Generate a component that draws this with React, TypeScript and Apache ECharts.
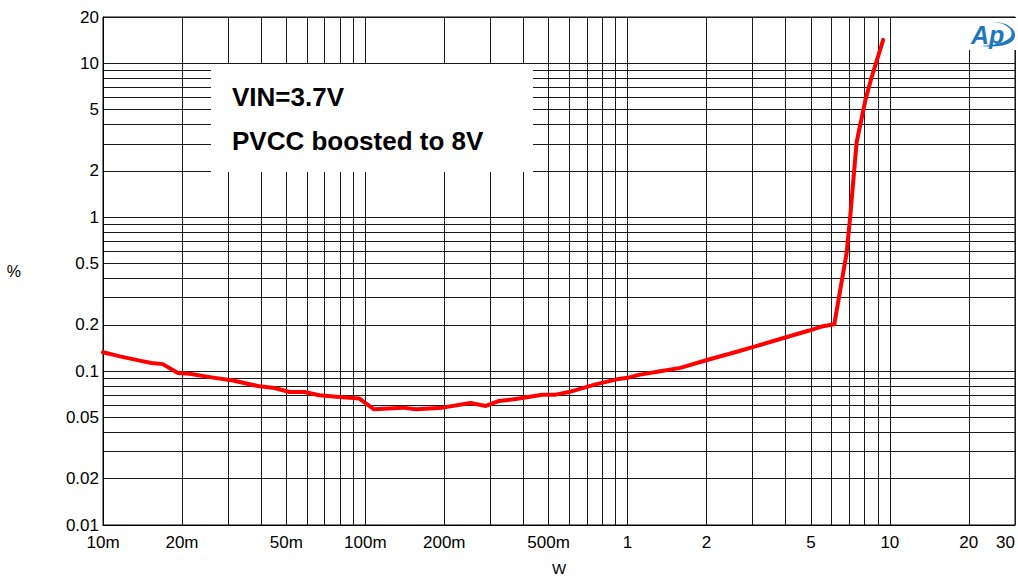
import React, { useEffect, useRef } from "react";
import * as echarts from "echarts";

// Output power (W)
const POWER_W = [
  0.01, 0.0116, 0.0138, 0.0153, 0.0169, 0.0193, 0.0214, 0.0255, 0.0313, 0.0395,
  0.0451, 0.0514, 0.0586, 0.0668, 0.0796, 0.095, 0.108, 0.1387, 0.156, 0.197,
  0.252, 0.288, 0.324, 0.386, 0.473, 0.532, 0.597, 0.755, 0.925, 1.0, 1.103,
  1.314, 1.589, 2.04, 2.57, 3.066, 3.99, 4.89, 5.49, 6.14, 6.84, 7.05, 7.47,
  8.08, 8.51, 9.43,
];
// THD+N (%)
const THDN_PCT = [
  0.1325, 0.1247, 0.117, 0.113, 0.111, 0.0973, 0.096, 0.0914, 0.0869, 0.0796,
  0.0777, 0.0731, 0.0731, 0.0697, 0.0679, 0.0663, 0.0565, 0.0579, 0.0565, 0.0579,
  0.0621, 0.0594, 0.064, 0.0663, 0.0703, 0.0703, 0.0731, 0.082, 0.089, 0.0904, 0.0945,
  0.0994, 0.105, 0.119, 0.1325, 0.1447, 0.1654, 0.1828, 0.1948, 0.2014, 0.584, 0.982, 3.07,
  5.83, 8.05, 14.2,
];

const X_LABELS = [0.01, 0.02, 0.05, 0.1, 0.2, 0.5, 1, 2, 5, 10, 20, 30];
const Y_LABELS = [0.01, 0.02, 0.05, 0.1, 0.2, 0.5, 1, 2, 5, 10, 20];
const X_DECADES = [0.01, 0.1, 1, 10];
const Y_DECADES = [0.01, 0.1, 1, 10];
const MULTIPLIERS = [1, 2, 3, 4, 5, 6, 7, 8, 9];
const X_MIN = 0.01;
const X_MAX = 30;
const Y_MIN = 0.01;
const Y_MAX = 20;

const FONT = '"Liberation Sans", Arial, Helvetica, sans-serif';

function gridValues(decades: number[], min: number, max: number) {
  const out: number[] = [];
  decades.forEach((d) =>
    MULTIPLIERS.forEach((m) => {
      const v = Number((m * d).toPrecision(6));
      if (v >= min && v <= max) out.push(v);
    })
  );
  return out;
}

const SWOOSH =
  "M 24 2 C 38 2 47 9 46 16 C 45 24 33 28 12 26 C 29 25 41 21 42.5 15 C 44 9 37 3 24 2 Z";
echarts.graphic.registerShape("apswoosh", echarts.graphic.extendPath(SWOOSH, {}) as any);

function fmtX(v: number) {
  if (v < 1) return Math.round(v * 1000) + "m";
  return String(Number(v.toPrecision(4)));
}
function fmtY(v: number) {
  return String(Number(v.toPrecision(4)));
}

export default function App() {
  const ref = useRef<HTMLDivElement>(null);
  useEffect(() => {
    if (!ref.current) return;
    const chart = echarts.init(ref.current, undefined, { renderer: "svg" });
    const data = POWER_W.map((p, i) => [p, THDN_PCT[i]]);
    chart.setOption({
      animation: false,
      backgroundColor: "#fff",
      textStyle: { fontFamily: FONT },
      grid: {
        left: 103,
        right: 1,
        top: 17,
        bottom: 52,
        show: true,
        borderColor: "#000",
        borderWidth: 1,
        backgroundColor: "transparent",
      },
      xAxis: {
        type: "log",
        logBase: 10,
        min: X_MIN,
        max: X_MAX,
        name: "W",
        nameLocation: "middle",
        nameGap: 36,
        nameTextStyle: { color: "#000", fontSize: 15, fontFamily: FONT },
        axisLine: { show: true, lineStyle: { color: "#000", width: 1 } },
        axisTick: { show: false, customValues: gridValues(X_DECADES, X_MIN, X_MAX) },
        axisLabel: {
          customValues: X_LABELS,
          formatter: (v: number) => fmtX(v),
          color: "#000",
          fontSize: 17,
          fontFamily: FONT,
          margin: 9,
          alignMaxLabel: "right",
          showMaxLabel: true,
          showMinLabel: true,
        },
        splitLine: { show: true, lineStyle: { color: "#1a1a1a", width: 1 } },
        minorTick: { show: false },
        minorSplitLine: { show: false },
      },
      yAxis: {
        type: "log",
        logBase: 10,
        min: Y_MIN,
        max: Y_MAX,
        name: "%",
        nameLocation: "middle",
        nameRotate: 0,
        nameGap: 82,
        nameTextStyle: { color: "#000", fontSize: 16, fontFamily: FONT },
        axisLine: { show: true, lineStyle: { color: "#000", width: 1 } },
        axisTick: { show: false, customValues: gridValues(Y_DECADES, Y_MIN, Y_MAX) },
        axisLabel: {
          customValues: Y_LABELS,
          formatter: (v: number) => fmtY(v),
          color: "#000",
          fontSize: 17,
          fontFamily: FONT,
          margin: 4,
          showMaxLabel: true,
          showMinLabel: true,
        },
        splitLine: { show: true, lineStyle: { color: "#1a1a1a", width: 1 } },
        minorTick: { show: false },
        minorSplitLine: { show: false },
      },
      series: [
        {
          type: "line",
          data,
          showSymbol: false,
          symbol: "none",
          smooth: false,
          lineStyle: { color: "#ff0000", width: 4, join: "round", cap: "round" },
          z: 5,
        },
      ],
      graphic: [
        {
          type: "rect",
          z: 100,
          shape: { x: 211, y: 64, width: 322, height: 108 },
          style: { fill: "#ffffff" },
        },
        {
          type: "text",
          z: 101,
          x: 232,
          y: 97,
          style: {
            text: "VIN=3.7V",
            font: "bold 26px " + FONT,
            fill: "#000",
            verticalAlign: "middle",
            align: "left",
          },
        },
        {
          type: "text",
          z: 101,
          x: 232,
          y: 141,
          style: {
            text: "PVCC boosted to 8V",
            font: "bold 26px " + FONT,
            fill: "#000",
            verticalAlign: "middle",
            align: "left",
          },
        },
        {
          type: "rect",
          z: 100,
          shape: { x: 968, y: 18, width: 48, height: 32 },
          style: { fill: "#ffffff" },
        },
        {
          type: "apswoosh",
          z: 101,
          x: 969,
          y: 20,
          scaleX: 1,
          scaleY: 1,
          style: { fill: "#1e78be" },
        },
        {
          type: "text",
          z: 102,
          x: 971,
          y: 35,
          style: {
            text: "Ap",
            font: "italic bold 25px " + FONT,
            fill: "#1e78be",
            verticalAlign: "middle",
            align: "left",
          },
        },
      ],
    });
    return () => chart.dispose();
  }, []);
  return <div ref={ref} style={{ width: 1018, height: 581, position: "absolute", left: 0, top: 0 }} />;
}
